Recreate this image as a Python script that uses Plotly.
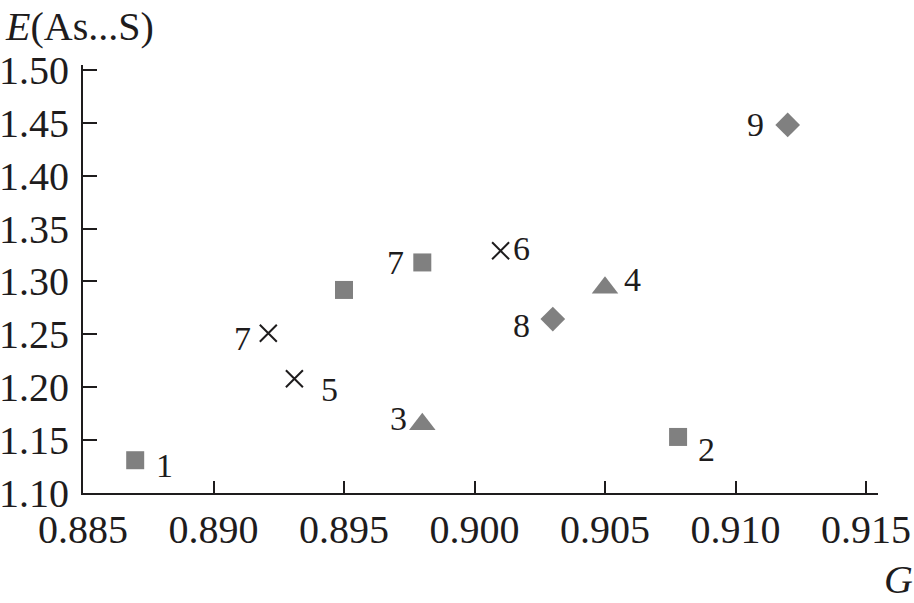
import plotly.graph_objects as go

# data
sq_x = [0.887, 0.9078, 0.898, 0.895]
sq_y = [1.131, 1.153, 1.318, 1.292]
sq_lab = ["1", "2", "7", ""]

tri_x = [0.898, 0.905]
tri_y = [1.165, 1.294]
tri_lab = ["3", "4"]

cross_x = [0.8931, 0.901, 0.8921]
cross_y = [1.208, 1.329, 1.251]
cross_lab = ["5", "6", "7"]

dia_x = [0.903, 0.912]
dia_y = [1.2645, 1.448]
dia_lab = ["8", "9"]

# label offsets in px (dx, dy) from the marker
sq_off = [(29, -5), (28, -13), (-27, 0), (0, 0)]
tri_off = [(-24, 6), (27, 8)]
cross_off = [(35, -11), (21, 2), (-26, -5)]
dia_off = [(-31, -6), (-32, 0)]

GRAY = "#808080"
INK = "#1e1c1d"
FONT = "Liberation Serif"

fig = go.Figure()
fig.add_trace(go.Scatter(x=sq_x, y=sq_y, mode="markers",
                         marker=dict(symbol="square", size=18, color=GRAY)))
fig.add_trace(go.Scatter(x=tri_x, y=tri_y, mode="markers",
                         marker=dict(symbol="triangle-up", size=23, color=GRAY)))
fig.add_trace(go.Scatter(x=dia_x, y=dia_y, mode="markers",
                         marker=dict(symbol="diamond", size=19, color=GRAY)))
fig.add_trace(go.Scatter(x=cross_x, y=cross_y, mode="markers",
                         marker=dict(symbol="x-thin", size=17, color=INK,
                                     line=dict(width=2, color=INK))))

annos = []
for xs, ys, labs, offs in [(sq_x, sq_y, sq_lab, sq_off), (tri_x, tri_y, tri_lab, tri_off),
                           (cross_x, cross_y, cross_lab, cross_off), (dia_x, dia_y, dia_lab, dia_off)]:
    for x, y, t, (dx, dy) in zip(xs, ys, labs, offs):
        if not t:
            continue
        annos.append(dict(x=x, y=y, text=t, showarrow=False, xshift=dx, yshift=dy,
                          font=dict(family=FONT, size=34, color=INK)))

annos.append(dict(xref="paper", yref="paper", x=-0.101, y=1.0, xanchor="left", yanchor="bottom",
                  text="<i>E</i>(As...S)", showarrow=False, yshift=14,
                  font=dict(family=FONT, size=40, color=INK)))
annos.append(dict(xref="paper", yref="paper", x=1.046, y=0, xanchor="right", yanchor="top",
                  text="<i>G</i>", showarrow=False, yshift=-62,
                  font=dict(family=FONT, size=40, color=INK)))

fig.update_layout(
    width=914, height=603,
    margin=dict(l=83, r=36, t=65, b=110),
    plot_bgcolor="white", paper_bgcolor="white",
    showlegend=False,
    annotations=annos,
    font=dict(family=FONT, color=INK),
)
fig.update_xaxes(range=[0.885, 0.91546], tickvals=[0.885, 0.89, 0.895, 0.9, 0.905, 0.91, 0.915],
                 ticktext=["0.885", "0.890", "0.895", "0.900", "0.905", "0.910", "0.915"],
                 showgrid=False, zeroline=False, showline=True, linecolor=INK, linewidth=2,
                 ticks="inside", ticklen=12, tickwidth=2, tickcolor=INK, automargin=False,
                 tickfont=dict(family=FONT, size=40, color=INK))
fig.update_yaxes(range=[1.10, 1.5047], tickvals=[1.10, 1.15, 1.20, 1.25, 1.30, 1.35, 1.40, 1.45, 1.50],
                 ticktext=["1.10", "1.15", "1.20", "1.25", "1.30", "1.35", "1.40", "1.45", "1.50"],
                 showgrid=False, zeroline=False, showline=True, linecolor=INK, linewidth=2,
                 ticks="inside", ticklen=14, tickwidth=2, tickcolor=INK, automargin=False,
                 ticklabelstandoff=4,
                 tickfont=dict(family=FONT, size=40, color=INK))

fig.write_html("out.html", config={"displayModeBar": False},
               post_script="document.body.style.margin='0';")
